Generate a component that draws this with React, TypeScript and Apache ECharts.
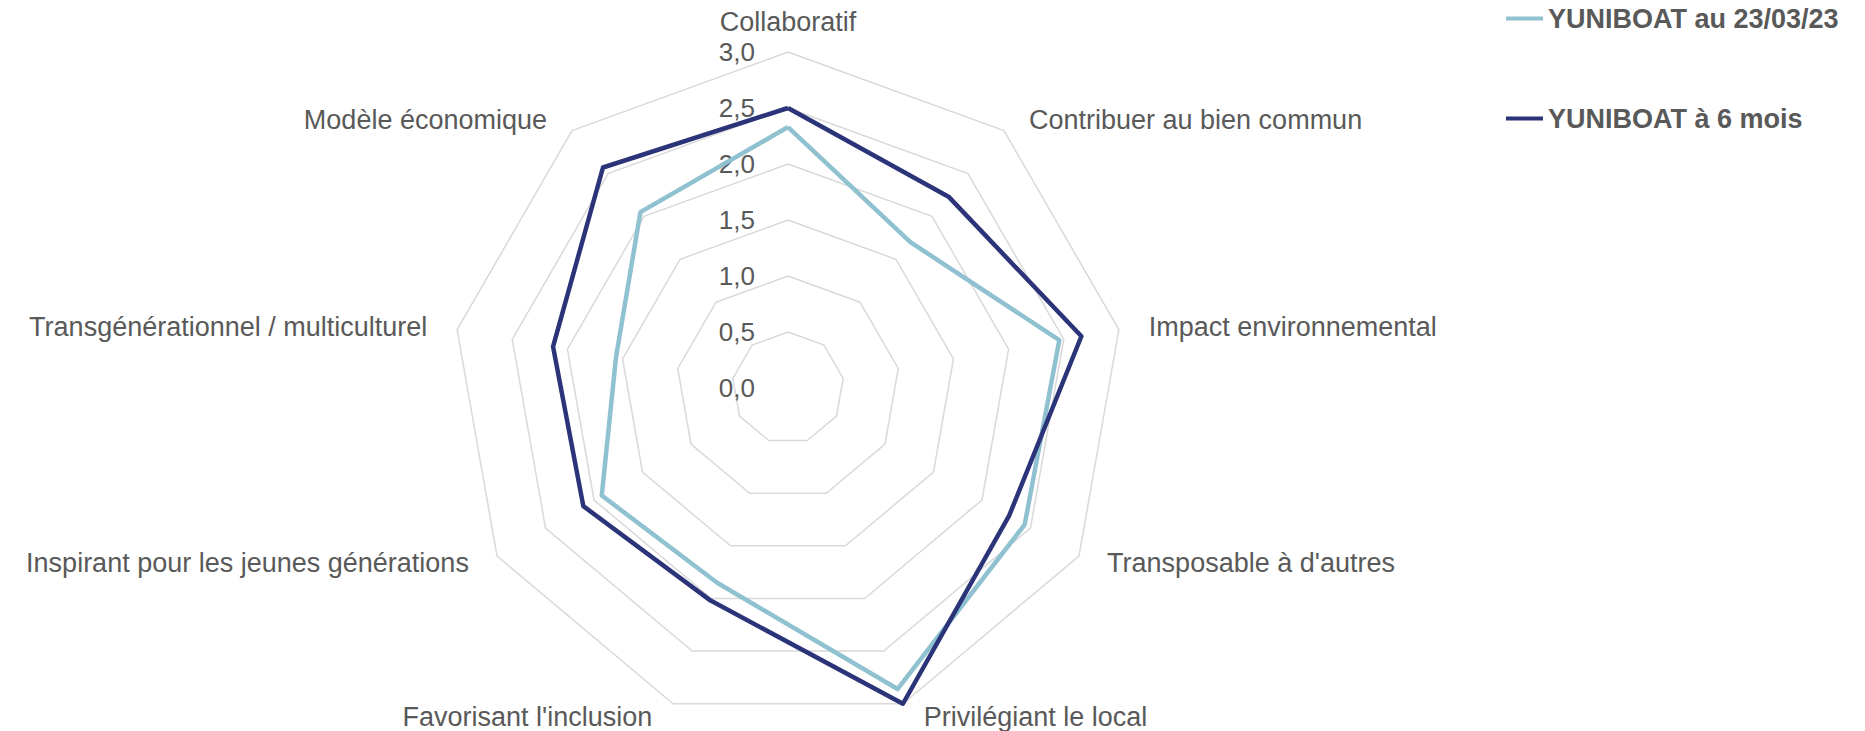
import React, { useEffect, useRef } from "react";
import * as echarts from "echarts";

// Indicators listed clockwise from the top, as read on the chart
const categories = [
  "Collaboratif",
  "Contribuer au bien commun",
  "Impact environnemental",
  "Transposable à d'autres",
  "Privilégiant le local",
  "Favorisant l'inclusion",
  "Inspirant pour les jeunes générations",
  "Transgénérationnel / multiculturel",
  "Modèle économique",
];
const seriesNames = ["YUNIBOAT au 23/03/23", "YUNIBOAT à 6 mois"];
const valuesNow = [2.33, 1.7, 2.46, 2.44, 2.86, 1.85, 1.92, 1.56, 2.05];
const valuesSixMonths = [2.5, 2.23, 2.66, 2.28, 3.0, 2.02, 2.11, 2.13, 2.57];
const scaleMax = 3;
const scaleStep = 0.5;

const COLORS = ["#8fc1d1", "#2b3478"];
const TEXT = "#595959";
const FONT = "'Liberation Sans', Arial, sans-serif";

// ECharts places radar indicators counter-clockwise; reorder the clockwise lists
const ccw = <T,>(arr: T[]): T[] => [arr[0], ...arr.slice(1).reverse()];

export default function App() {
  const ref = useRef<HTMLDivElement>(null);
  useEffect(() => {
    if (!ref.current) return;
    const chart = echarts.init(ref.current, undefined, { renderer: "svg" });
    const cx = 788;
    const cy = 388;
    const R = 336;
    chart.setOption({
      animation: false,
      backgroundColor: "#ffffff",
      textStyle: { fontFamily: FONT },
      legend: {
        orient: "vertical",
        left: 1501,
        top: 0,
        itemGap: 73,
        icon: "rect",
        itemWidth: 37,
        itemHeight: 4,
        data: seriesNames,
        textStyle: { color: TEXT, fontSize: 27, fontWeight: "bold", fontFamily: FONT },
      },
      radar: {
        center: [cx, cy],
        radius: R,
        startAngle: 90,
        shape: "polygon",
        splitNumber: Math.round(scaleMax / scaleStep),
        indicator: ccw(categories).map((name) => ({ name, min: 0, max: scaleMax })),
        nameGap: 14,
        axisName: {
          color: TEXT,
          fontSize: 27,
          fontFamily: FONT,
          padding: [3, 16],
        },
        splitLine: { lineStyle: { color: "#d9d9d9", width: 1.5 } },
        splitArea: { show: false },
        axisLine: { show: false },
        axisTick: { show: false },
        axisLabel: { show: false },
      },
      grid: { left: cx, top: cy - R, width: 10, height: R },
      xAxis: { type: "value", show: false, min: 0, max: 1 },
      yAxis: {
        type: "value",
        min: 0,
        max: scaleMax,
        interval: scaleStep,
        axisLine: { show: false },
        axisTick: { show: false },
        splitLine: { show: false },
        axisLabel: {
          margin: 33,
          color: TEXT,
          fontSize: 26,
          fontFamily: FONT,
          formatter: (v: number) => v.toFixed(1).replace(".", ","),
        },
      },
      series: [
        {
          type: "radar",
          symbol: "none",
          data: [
            {
              name: seriesNames[0],
              value: ccw(valuesNow),
              lineStyle: { color: COLORS[0], width: 4.5 },
              itemStyle: { color: COLORS[0] },
            },
            {
              name: seriesNames[1],
              value: ccw(valuesSixMonths),
              lineStyle: { color: COLORS[1], width: 4.5 },
              itemStyle: { color: COLORS[1] },
            },
          ],
        },
      ],
    });
    return () => chart.dispose();
  }, []);
  return (
    <div
      ref={ref}
      style={{ position: "absolute", left: 0, top: 0, width: 1865, height: 731 }}
    />
  );
}
